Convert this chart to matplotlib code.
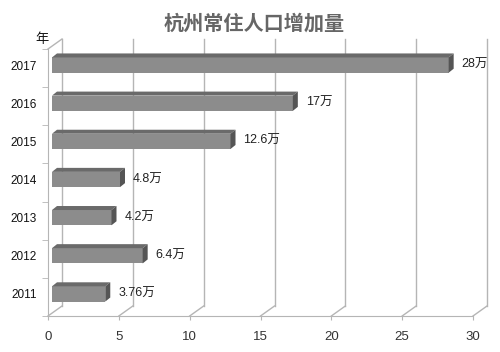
# hangzhou population bar chart (pseudo-3d)

import numpy as np
import matplotlib.pyplot as plt
from matplotlib.patches import Polygon

years = ['2011', '2012', '2013', '2014', '2015', '2016', '2017']
values = [3.76, 6.4, 4.2, 4.8, 12.6, 17, 28]
value_labels = ['3.76万', '6.4万', '4.2万', '4.8万', '12.6万', '17万', '28万']
xticks = [0, 5, 10, 15, 20, 25, 30]
title = '杭州常住人口增加量'

W, H = 500, 352
ax_l, ax_b, ax_w, ax_h = 48, 36, 425, 267
xmin, xmax = 0, 30
ymin, ymax = -0.5, 6.5

fig = plt.figure(figsize=(W / 100, H / 100), dpi=100)
ax = fig.add_axes([ax_l / W, ax_b / H, ax_w / W, ax_h / H])
ax.set_xlim(xmin, xmax)
ax.set_ylim(ymin, ymax)

# pixels per data unit
ux = ax_w / (xmax - xmin)
uy = ax_h / (ymax - ymin)

grid_c = '#b5b5b5'
# back wall offset
bx, by = 14 / ux, 10 / uy
for xt in xticks:
    ax.plot([xt + bx, xt + bx], [ymin + by, ymax + by], color=grid_c, lw=1, clip_on=False, zorder=1)
    ax.plot([xt, xt + bx], [ymin, ymin + by], color=grid_c, lw=1, clip_on=False, zorder=1)
ax.plot([0, bx], [ymax, ymax + by], color=grid_c, lw=1, clip_on=False, zorder=1)

# bars: front face offset and depth
fdx, fdy = 4 / ux, 3 / uy
ddx, ddy = 5 / ux, 4 / uy
h = 0.40
pos = np.arange(len(years))
ax.barh(pos + fdy, values, left=fdx, height=h, color='#8c8c8c', edgecolor='none', zorder=3)
for p, v in zip(pos, values):
    y0 = p + fdy - h / 2
    y1 = p + fdy + h / 2
    x0, x1 = fdx, fdx + v
    top = Polygon([(x0, y1), (x1, y1), (x1 + ddx, y1 + ddy), (x0 + ddx, y1 + ddy)],
                  closed=True, facecolor='#6a6a6a', edgecolor='none', zorder=3)
    side = Polygon([(x1, y0), (x1, y1), (x1 + ddx, y1 + ddy), (x1 + ddx, y0 + ddy)],
                   closed=True, facecolor='#555555', edgecolor='none', zorder=3)
    ax.add_patch(top)
    ax.add_patch(side)

for p, v, lab in zip(pos, values, value_labels):
    ax.text(v + 17 / ux, p + fdy, lab, ha='left', va='center', fontsize=9,
            color='#222222', family=['Liberation Sans', 'Noto Sans CJK SC'], zorder=4)

# axes styling
for s in ['top', 'right']:
    ax.spines[s].set_visible(False)
ax.spines['bottom'].set_color(grid_c)
ax.spines['left'].set_color(grid_c)
ax.set_xticks(xticks)
ax.set_xticklabels([str(x) for x in xticks], fontsize=9.5, color='#333333', family='Liberation Sans')
ax.tick_params(axis='x', length=3, color=grid_c, pad=8)
ax.set_yticks(pos + fdy)
ax.set_yticklabels(years, fontsize=8.5, color='#111111', family='Liberation Sans')
ax.tick_params(axis='y', length=0, pad=8)
ax.set_yticks(np.arange(ymin, ymax + 0.01, 1), minor=True)
ax.tick_params(axis='y', which='minor', length=4, color=grid_c)
ax.patch.set_alpha(0)

fig.text(41.5 / W, 1 - 39 / H, '年', ha='center', va='center', fontsize=9.5,
         family=['Noto Sans CJK SC', 'DejaVu Sans'], color='#111111')
fig.text(254 / W, 1 - 23 / H, title, ha='center', va='center', fontsize=14.5,
         fontweight='bold', color='#666666', family=['Noto Sans CJK SC', 'DejaVu Sans'])

fig.savefig('out.png', dpi=100)
